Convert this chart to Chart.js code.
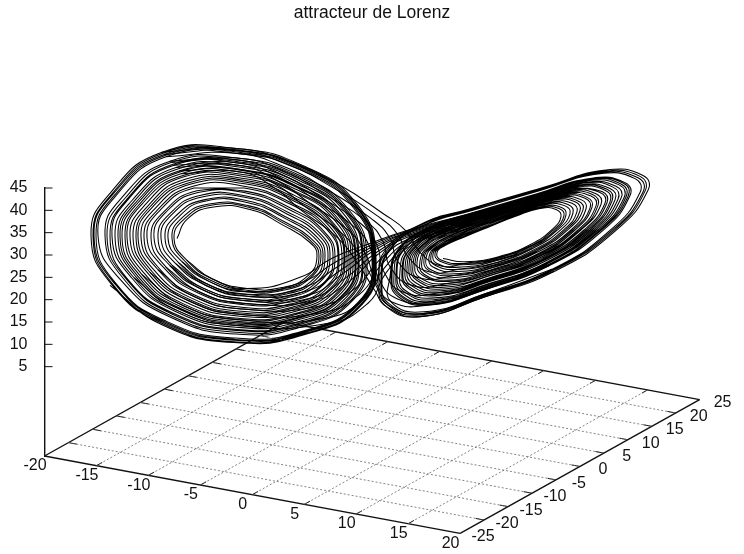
<!DOCTYPE html>
<html>
<head>
<meta charset="utf-8">
<title>attracteur de Lorenz</title>
<script src="https://cdn.jsdelivr.net/npm/chart.js@4/dist/chart.umd.js"></script>
<style>
  body { margin: 0; background: #fff; }
  canvas { display: block; }
</style>
</head>
<body>
<canvas id="lorenz" width="744" height="554"></canvas>
<script>
"use strict";
const xTicks = [-20, -15, -10, -5, 0, 5, 10, 15, 20];
const yTicks = [-25, -20, -15, -10, -5, 0, 5, 10, 15, 20, 25];
const zTicks = [5, 10, 15, 20, 25, 30, 35, 40, 45];

// curve: pairs of (screen position, height on the z axis)
const leftTurns = [
  [-19.5,33.7, -18.5,38, -16,40.7, -12.2,40.2, -9,36.8, -6.2,32.8, -5.5,29.7, -6.4,25.4, -9,22.7, -12.5,22.5, -16,24.7, -18.5,28.8],
  [-19.8,33.7, -18.7,38.2, -16.2,41.1, -12.2,40.6, -8.9,37.2, -6.1,33.1, -5.3,29.7, -6.2,25.2, -8.9,22.4, -12.5,22.1, -16.2,24.4, -18.7,28.6],
  [-20,33.7, -19,38.3, -16.3,41.4, -12.3,41, -8.9,37.6, -5.9,33.3, -5.1,29.7, -6.1,25, -8.9,22.1, -12.6,21.8, -16.3,24.1, -19,28.5],
  [-20.4,33.8, -19.3,38.6, -16.6,42.1, -12.4,41.7, -8.7,38.2, -5.7,33.7, -4.9,29.6, -5.8,24.7, -8.7,21.5, -12.6,21.2, -16.6,23.6, -19.3,28.2],
  [-20.7,33.8, -19.6,38.8, -16.7,42.4, -12.4,42.1, -8.7,38.6, -5.5,34, -4.7,29.6, -5.6,24.5, -8.7,21.2, -12.7,20.8, -16.7,23.3, -19.6,28],
  [-21.1,33.8, -20,39.1, -17,43, -12.5,42.8, -8.6,39.3, -5.3,34.4, -4.4,29.6, -5.4,24.2, -8.6,20.7, -12.7,20.2, -17,22.7, -20,27.7],
  [-21.4,33.9, -20.2,39.3, -17.1,43.4, -12.6,43.2, -8.5,39.7, -5.1,34.6, -4.2,29.6, -5.2,24, -8.5,20.4, -12.8,19.8, -17.1,22.4, -20.2,27.6],
  [-21.8,33.9, -20.6,39.6, -17.4,44, -12.6,43.9, -8.4,40.3, -4.9,35, -3.9,29.6, -4.9,23.6, -8.4,19.9, -12.9,19.2, -17.4,21.9, -20.6,27.3],
  [-22.1,33.9, -20.8,39.7, -17.5,44.4, -12.7,44.3, -8.3,40.7, -4.8,35.3, -3.7,29.6, -4.8,23.5, -8.3,19.6, -12.9,18.9, -17.5,21.6, -20.8,27.1],
  [-22.5,33.9, -21.2,40, -17.8,45, -12.8,45, -8.2,41.4, -4.5,35.7, -3.4,29.5, -4.5,23.1, -8.2,19, -13,18.3, -17.8,21.1, -21.2,26.8],
  [-22.8,34, -21.4,40.2, -17.9,45.4, -12.8,45.4, -8.1,41.7, -4.4,36, -3.3,29.5, -4.3,22.9, -8.1,18.7, -13,17.9, -17.9,20.8, -21.4,26.7],
  [-23.1,34, -21.7,40.4, -18.1,45.9, -12.9,46, -8,42.3, -4.2,36.3, -3,29.5, -4.1,22.7, -8,18.3, -13.1,17.4, -18.1,20.4, -21.7,26.4],
  [-23.4,34, -22,40.6, -18.3,46.2, -12.9,46.4, -8,42.7, -4,36.5, -2.8,29.5, -4,22.5, -8,18, -13.1,17, -18.3,20.1, -22,26.3],
  [-23.6,34, -22.2,40.8, -18.4,46.6, -13,46.8, -7.9,43, -3.9,36.8, -2.7,29.5, -3.8,22.3, -7.9,17.7, -13.1,16.7, -18.4,19.8, -22.2,26.1],
  [-23.9,34.1, -22.4,41, -18.6,47, -13,47.2, -7.8,43.4, -3.8,37, -2.5,29.4, -3.6,22.1, -7.8,17.3, -13.2,16.3, -18.6,19.4, -22.4,25.9],
  [-24.2,34.1, -22.7,41.2, -18.8,47.5, -13.1,47.7, -7.7,44, -3.6,37.4, -2.3,29.4, -3.4,21.8, -7.7,16.9, -13.2,15.8, -18.8,19, -22.7,25.7],
  [-24.5,34.1, -23,41.4, -18.9,47.8, -13.1,48.1, -7.7,44.3, -3.4,37.6, -2.1,29.4, -3.3,21.6, -7.7,16.6, -13.3,15.5, -18.9,18.7, -23,25.6],
  [-24.7,34.1, -23.2,41.5, -19.1,48.2, -13.2,48.6, -7.6,44.7, -3.3,37.9, -1.9,29.4, -3.1,21.4, -7.6,16.3, -13.3,15.1, -19.1,18.4, -23.2,25.4],
  [-25,34.1, -23.4,41.7, -19.2,48.6, -13.2,49, -7.5,45.1, -3.1,38.1, -1.7,29.4, -2.9,21.2, -7.5,16, -13.3,14.8, -19.2,18.1, -23.4,25.2],
  [-25.2,34.2, -23.6,41.8, -19.3,48.8, -13.3,49.2, -7.5,45.4, -3,38.3, -1.6,29.4, -2.8,21.1, -7.5,15.8, -13.4,14.5, -19.3,17.9, -23.6,25.1],
  [-25.4,34.2, -23.8,42, -19.5,49.2, -13.3,49.7, -7.4,45.8, -2.9,38.5, -1.4,29.4, -2.7,20.9, -7.4,15.5, -13.4,14.2, -19.5,17.6, -23.8,24.9],
  [-25.7,34.2, -24,42.2, -19.6,49.6, -13.4,50.1, -7.3,46.2, -2.7,38.8, -1.3,29.3, -2.5,20.7, -7.3,15.1, -13.4,13.8, -19.6,17.3, -24,24.8],
  [-26,34.2, -24.4,42.4, -19.8,50.1, -13.4,50.6, -7.3,46.7, -2.5,39.1, -1,29.3, -2.3,20.5, -7.3,14.7, -13.5,13.3, -19.8,16.9, -24.4,24.5],
  [-26.2,34.2, -24.5,42.5, -19.9,50.3, -13.4,50.9, -7.2,47, -2.4,39.3, -0.9,29.3, -2.2,20.3, -7.2,14.5, -13.5,13.1, -19.9,16.7, -24.5,24.4],
  [-26.5,34.3, -24.7,42.7, -20.1,50.7, -13.5,51.3, -7.1,47.3, -2.3,39.5, -0.7,29.3, -2,20.1, -7.1,14.2, -13.6,12.7, -20.1,16.4, -24.7,24.3],
  [-26.7,34.3, -25,42.9, -20.2,51, -13.5,51.7, -7.1,47.7, -2.2,39.8, -0.5,29.3, -1.9,19.9, -7.1,13.9, -13.6,12.3, -20.2,16.1, -25,24.1],
  [-27.4,34.3, -25.6,43.3, -20.6,52, -13.7,52.8, -6.9,48.8, -1.8,40.4, 0,29.2, -1.4,19.4, -6.9,13, -13.7,11.4, -20.6,15.2, -25.6,23.6],
  [-27.6,34.4, -25.7,43.5, -20.7,52.3, -13.7,53.1, -6.8,49, -1.7,40.6, 0.1,29.2, -1.3,19.3, -6.8,12.8, -13.7,11.1, -20.7,15, -25.7,23.5],
  [-27.8,34.4, -25.9,43.6, -20.8,52.5, -13.7,53.4, -6.8,49.3, -1.6,40.8, 0.2,29.2, -1.2,19.2, -6.8,12.6, -13.7,10.9, -20.8,14.8, -25.9,23.4],
  [-27.9,34.4, -26,43.7, -20.9,52.8, -13.8,53.6, -6.7,49.5, -1.5,40.9, 0.3,29.2, -1.1,19, -6.7,12.4, -13.8,10.6, -20.9,14.6, -26,23.3],
  [-28.1,34.4, -26.2,43.8, -21,53, -13.8,53.9, -6.7,49.8, -1.4,41.1, 0.4,29.2, -1,18.9, -6.7,12.2, -13.8,10.4, -21,14.4, -26.2,23.2],
];
const rightTurns = [
  [7.1,29.2, 9.3,28.5, 12.8,29.7, 15.8,32.3, 18,35.7, 18.9,38.6, 18.4,40.2, 16.8,40.4, 14.3,38.6, 11.8,36.4, 9.3,34.1, 7.3,32.1, 6.5,30.6],
  [6.9,28.9, 9.2,28.1, 12.7,29.4, 15.9,32.1, 18.2,35.7, 19.2,38.8, 18.7,40.4, 17,40.7, 14.4,38.8, 11.7,36.5, 9.2,34.2, 7.1,32.1, 6.3,30.4],
  [6.8,28.6, 9,27.8, 12.7,29.1, 15.9,31.9, 18.4,35.7, 19.4,39, 18.9,40.7, 17.2,40.9, 14.5,39, 11.7,36.6, 9,34.3, 6.9,32, 6.1,30.2],
  [6.5,28.1, 8.9,27.3, 12.6,28.8, 16,31.7, 18.6,35.7, 19.8,39.2, 19.3,41, 17.5,41.3, 14.6,39.3, 11.6,36.8, 8.9,34.4, 6.7,32, 5.9,29.9],
  [6.3,27.7, 8.7,26.8, 12.6,28.4, 16.1,31.5, 18.9,35.7, 20.1,39.4, 19.6,41.3, 17.7,41.6, 14.7,39.5, 11.5,37, 8.7,34.5, 6.5,32, 5.7,29.6],
  [6.1,27.3, 8.5,26.3, 12.5,28, 16.2,31.2, 19.2,35.7, 20.5,39.7, 20,41.6, 18,41.9, 14.8,39.8, 11.5,37.1, 8.5,34.6, 6.2,31.9, 5.4,29.3],
  [5.8,26.8, 8.3,25.8, 12.4,27.7, 16.3,31, 19.4,35.7, 20.8,39.9, 20.3,41.9, 18.3,42.3, 14.9,40, 11.4,37.3, 8.3,34.7, 6,31.9, 5.2,29.1],
  [5.7,26.5, 8.2,25.4, 12.4,27.4, 16.4,30.8, 19.6,35.7, 21.1,40.1, 20.6,42.1, 18.5,42.6, 15,40.2, 11.3,37.4, 8.2,34.8, 5.8,31.8, 5,28.9],
  [5.4,26.1, 8,24.9, 12.3,27, 16.5,30.6, 19.9,35.6, 21.4,40.3, 20.9,42.4, 18.7,42.9, 15.1,40.5, 11.2,37.6, 8,34.9, 5.6,31.8, 4.8,28.6],
  [5.2,25.7, 7.8,24.4, 12.2,26.7, 16.6,30.3, 20.1,35.6, 21.8,40.5, 21.3,42.7, 19,43.2, 15.2,40.7, 11.2,37.7, 7.8,35, 5.3,31.7, 4.5,28.3],
  [5.1,25.4, 7.7,24.1, 12.2,26.4, 16.7,30.1, 20.3,35.6, 22,40.7, 21.5,42.9, 19.2,43.5, 15.3,40.9, 11.1,37.8, 7.7,35.1, 5.1,31.7, 4.3,28.1],
  [4.8,24.9, 7.5,23.6, 12.1,26, 16.8,29.9, 20.6,35.6, 22.4,41, 21.9,43.2, 19.4,43.8, 15.4,41.2, 11,38, 7.5,35.2, 4.9,31.7, 4.1,27.8],
  [4.6,24.6, 7.4,23.2, 12.1,25.7, 16.8,29.7, 20.8,35.6, 22.6,41.1, 22.1,43.5, 19.6,44.1, 15.5,41.4, 11,38.1, 7.4,35.3, 4.7,31.6, 3.9,27.6],
  [4.5,24.3, 7.2,22.8, 12,25.5, 16.9,29.5, 20.9,35.6, 22.9,41.3, 22.4,43.7, 19.8,44.4, 15.6,41.6, 10.9,38.2, 7.2,35.3, 4.5,31.6, 3.7,27.4],
  [4.3,23.9, 7.1,22.4, 12,25.1, 17,29.3, 21.2,35.6, 23.3,41.6, 22.8,44, 20.1,44.7, 15.7,41.9, 10.9,38.4, 7.1,35.5, 4.3,31.6, 3.5,27.1],
  [4.1,23.5, 6.9,22, 11.9,24.8, 17.1,29.1, 21.4,35.6, 23.5,41.7, 23,44.2, 20.3,45, 15.8,42, 10.8,38.5, 6.9,35.5, 4.1,31.5, 3.3,26.9],
  [3.9,23.2, 6.8,21.6, 11.8,24.5, 17.1,28.9, 21.6,35.6, 23.8,41.9, 23.3,44.5, 20.5,45.2, 15.9,42.2, 10.7,38.6, 6.8,35.6, 3.9,31.5, 3.1,26.7],
  [3.7,22.9, 6.6,21.2, 11.8,24.3, 17.2,28.8, 21.8,35.6, 24,42.1, 23.5,44.7, 20.7,45.5, 16,42.4, 10.7,38.8, 6.6,35.7, 3.8,31.4, 3,26.5],
  [3.6,22.6, 6.5,20.9, 11.7,24, 17.3,28.6, 22,35.6, 24.3,42.3, 23.8,44.9, 20.9,45.7, 16,42.6, 10.6,38.9, 6.5,35.8, 3.6,31.4, 2.8,26.3],
  [3.3,22.1, 6.3,20.4, 11.7,23.6, 17.4,28.3, 22.2,35.6, 24.6,42.5, 24.1,45.2, 21.2,46.1, 16.1,42.9, 10.5,39, 6.3,35.9, 3.3,31.4, 2.5,26],
  [3.2,21.8, 6.2,20, 11.6,23.4, 17.5,28.2, 22.4,35.6, 24.9,42.7, 24.4,45.4, 21.4,46.3, 16.2,43.1, 10.5,39.2, 6.2,36, 3.2,31.3, 2.4,25.8],
  [3,21.5, 6,19.6, 11.6,23.1, 17.5,28, 22.6,35.6, 25.2,42.8, 24.7,45.7, 21.6,46.6, 16.3,43.3, 10.4,39.3, 6,36, 3,31.3, 2.2,25.6],
  [2.8,21.2, 5.9,19.3, 11.5,22.8, 17.6,27.8, 22.8,35.6, 25.4,43, 24.9,45.9, 21.8,46.9, 16.4,43.5, 10.4,39.4, 5.9,36.1, 2.8,31.3, 2,25.4],
  [2.7,21, 5.8,19, 11.5,22.6, 17.6,27.7, 22.9,35.5, 25.6,43.1, 25.1,46.1, 21.9,47, 16.5,43.6, 10.3,39.5, 5.8,36.2, 2.7,31.3, 1.9,25.2],
  [2.6,20.7, 5.7,18.8, 11.5,22.4, 17.7,27.6, 23.1,35.5, 25.8,43.3, 25.3,46.2, 22,47.2, 16.5,43.7, 10.3,39.6, 5.7,36.2, 2.6,31.2, 1.8,25.1],
  [1.9,19.5, 5.2,17.3, 11.3,21.3, 18,26.8, 23.8,35.5, 26.8,44, 26.3,47.1, 22.8,48.2, 16.9,44.5, 10.1,40, 5.2,36.6, 1.8,31.1, 1,24.2],
  [1.7,19.1, 5.1,16.9, 11.2,21, 18.1,26.7, 24,35.5, 27.1,44.1, 26.6,47.3, 23,48.5, 16.9,44.7, 10,40.2, 5.1,36.6, 1.7,31.1, 0.9,24],
  [1.6,18.8, 4.9,16.6, 11.2,20.8, 18.1,26.5, 24.2,35.5, 27.3,44.3, 26.8,47.6, 23.2,48.7, 17,44.9, 10,40.3, 4.9,36.7, 1.5,31, 0.7,23.8],
  [1.4,18.5, 4.8,16.2, 11.1,20.5, 18.2,26.3, 24.4,35.5, 27.6,44.5, 27.1,47.8, 23.4,49, 17.1,45.1, 9.9,40.4, 4.8,36.8, 1.3,31, 0.5,23.6],
];
// strands leaving the right wing for the left one
const rightToLeft = [
  [22,47, 15.9,43, 9.9,39.3, 3.5,35.5, -0.2,32.6, -3.9,29.4, -7.2,25, -12.5,22.5, -16,24.7, -18.5,28.8],
  [21.5,46.5, 15.6,42.8, 9.8,39.1, 3.5,35.3, -0.1,32.2, -3.6,28.5, -7,23.9, -12.6,21.8, -16.3,24.1, -19,28.5],
  [21,46, 15.4,42.6, 9.8,39, 3.6,35.1, 0,31.8, -3.3,27.6, -6.8,22.8, -12.6,21.2, -16.6,23.6, -19.3,28.2],
  [20.5,45.5, 15.2,42.3, 9.9,38.7, 3.6,34.9, 0.1,31.4, -3,26.8, -6.6,21.9, -12.7,20.8, -16.7,23.3, -19.6,28],
  [20,45, 15,42, 9.9,38.5, 3.7,34.7, 0.2,31, -2.8,26, -6.4,21, -12.7,20.2, -17,22.7, -20,27.7],
  [19.5,44.8, 14.8,41.6, 10,38.2, 3.7,34.4, 0.4,30.5, -2.5,25.1, -6.2,20.3, -12.8,19.8, -17.1,22.4, -20.2,27.6],
  [19,44.5, 14.6,41.3, 10,38, 3.8,34.2, 0.5,30, -2.2,24.2, -6,19.7, -12.9,19.2, -17.4,21.9, -20.6,27.3],
  [18,43.5, 14.3,40.8, 10,37.6, 3.9,33.8, 0.8,29, -1.7,22.5, -5.6,18.4, -13,17.9, -17.9,20.8, -21.4,26.7],
  [17,42.5, 14,40.2, 10.1,37.2, 4,33.4, 1,28, -1.2,21.3, -5.2,17, -13.1,16.7, -18.4,19.8, -22.2,26.1],
  [16.5,41.5, 13.8,39.6, 10.2,36.7, 4.2,33, 1.2,27, -0.8,20.2, -4.8,15.8, -13.3,15.5, -18.9,18.7, -23,25.6],
  [16,41, 13.6,39, 10.3,36.2, 4.3,32.6, 1.4,26, -0.4,19.2, -4.4,14.7, -13.4,14.2, -19.5,17.6, -23.8,24.9],
];
// strands leaving the left wing for the right one
const leftToRight = [
  [-21,53, -13.8,53.9, -8.2,50.8, -3.5,46, 1.1,39.3, 3.5,35.2, 4.8,30.6, 7,27.5, 9.2,28.1, 12.7,29.4, 15.9,32.1],
  [-20.8,52.5, -13.7,53.4, -8.3,50.1, -4,45.2, 0.5,38.8, 2.6,34.5, 3.6,29.6, 5.8,26.2, 8.7,26.8, 12.6,28.4, 16.1,31.5],
  [-20.6,52, -13.7,52.8, -8.4,49.4, -4.4,44.5, -0.1,38.2, 1.8,33.7, 2.6,28.5, 4.9,24.8, 8.2,25.4, 12.4,27.4, 16.4,30.8],
  [-20.2,51, -13.5,51.7, -8.6,48.6, -4.9,43.8, -0.6,37.6, 1.1,33, 1.8,27.4, 4,23.2, 7.5,23.6, 12.1,26, 16.8,29.9],
  [-20.1,50.7, -13.5,51.3, -8.8,47.8, -5.3,43.2, -1.1,37, 0.5,32.2, 1.2,26.2, 3.2,21.6, 6.8,21.6, 11.8,24.5, 17.1,28.9],
  [-19.8,50.1, -13.4,50.6, -9,47.1, -5.8,42.5, -1.7,36.2, -0.1,31.2, 0.6,25, 2.5,20.2, 6,19.6, 11.6,23.1, 17.5,28],
  [-19.6,49.6, -13.4,50.1, -9.2,46.3, -6.3,41.7, -2.3,35.4, -0.6,30, 0.4,23.8, 2,19.5, 5.7,18.8, 11.5,22.4, 17.7,27.6],
  [-19.3,48.8, -13.3,49.2, -9.4,45.5, -6.8,41, -2.9,34.6, -1,29, 0.5,22.7, 1.6,18.8, 5.1,16.9, 11.3,21.3, 18,26.8],
  [-19.1,48.2, -13.2,48.6, -9.6,44.8, -7.2,40.2, -3.4,33.8, -1.4,28, 0.3,22, 1.4,18.5, 4.8,16.2, 11.1,20.5, 18.2,26.3],
];

// gnuplot's view of the base plane, z axis bottom sits at -15
function project(x, y) {
  return {
    x: -32.75 + (x + 20) * 1.039 + (y + 25) * 0.479,
    y: -15 - (x + 20) * 0.433 + (y + 25) * 0.599,
  };
}
function toPoints(row) {
  const pts = [];
  for (let i = 0; i < row.length; i += 2) pts.push({ x: row[i], y: row[i + 1] });
  return pts;
}
function curve(rows) {
  return { data: toPoints(rows.flat()), borderColor: "#000", borderWidth: 1.05, tension: 0.5 };
}
function strand(row) {
  return { data: toPoints(row), borderColor: "#000", borderWidth: 1.05, tension: 0.5 };
}
function gridLine(a, b) {
  return { data: [a, b], borderColor: "#666", borderWidth: 0.8, borderDash: [2, 2] };
}
function axisLine(a, b, w) {
  return { data: [a, b], borderColor: "#111", borderWidth: w };
}

const xMin = xTicks[0], xMax = xTicks[xTicks.length - 1];
const yMin = yTicks[0], yMax = yTicks[yTicks.length - 1];
const datasets = [];

xTicks.slice(1, -1).forEach((x) => datasets.push(gridLine(project(x, yMin), project(x, yMax))));
yTicks.slice(1, -1).forEach((y) => datasets.push(gridLine(project(xMin, y), project(xMax, y))));

datasets.push(curve(leftTurns), curve(rightTurns));
rightToLeft.forEach((r) => datasets.push(strand(r)));
leftToRight.forEach((r) => datasets.push(strand(r)));

datasets.push(axisLine(project(xMin, yMin), project(xMax, yMin), 1.4));
datasets.push(axisLine(project(xMax, yMin), project(xMax, yMax), 1.4));
datasets.push(axisLine(project(xMax, yMax), project(xMin, yMax), 1.4));
datasets.push(axisLine(project(xMin, yMax), project(xMin, yMin), 1.4));
xTicks.slice(1, -1).forEach((x) => {
  datasets.push(axisLine(project(x, yMin), project(x, yMin + 1.2), 1));
  datasets.push(axisLine(project(x, yMax), project(x, yMax - 1.2), 1));
});
yTicks.slice(1, -1).forEach((y) => {
  datasets.push(axisLine(project(xMin, y), project(xMin + 0.8, y), 1));
  datasets.push(axisLine(project(xMax, y), project(xMax - 0.8, y), 1));
});
zTicks.forEach((z) => datasets.push(axisLine({ x: -32.75, y: z }, { x: -31.95, y: z }, 1)));

// the two base plane axes run on a slant, so their labels are placed by hand
const planeLabels = {
  id: "planeLabels",
  afterDatasetsDraw(chart) {
    const { ctx, scales } = chart;
    ctx.save();
    ctx.font = "16px 'Liberation Sans'";
    ctx.fillStyle = "#111";
    ctx.textAlign = "center";
    ctx.textBaseline = "middle";
    xTicks.forEach((x) => {
      const p = project(x, yMin);
      ctx.fillText(String(x), scales.x.getPixelForValue(p.x) - 9.5, scales.y.getPixelForValue(p.y) + 10);
    });
    yTicks.forEach((y) => {
      const p = project(xMax, y);
      ctx.fillText(String(y), scales.x.getPixelForValue(p.x) + 23, scales.y.getPixelForValue(p.y) + 3.5);
    });
    ctx.restore();
  },
};

new Chart(document.querySelector("#lorenz"), {
  type: "scatter",
  data: { datasets },
  plugins: [planeLabels],
  options: {
    responsive: false,
    animation: false,
    layout: { padding: { bottom: 98, right: 0, left: 0 } },
    datasets: { scatter: { showLine: true, pointRadius: 0, clip: false, fill: false } },
    plugins: {
      legend: { display: false },
      tooltip: { enabled: false },
      title: {
        display: true,
        text: "attracteur de Lorenz",
        color: "#111",
        font: { family: "'Liberation Sans'", size: 17.5, weight: "normal" },
        padding: { top: 3, bottom: 164 },
      },
    },
    scales: {
      x: { type: "linear", display: false, min: -32.75, max: 37.2 },
      y: {
        type: "linear",
        min: -15,
        max: 45,
        grid: { display: false, drawTicks: false },
        border: { display: true, color: "#111", width: 1.4 },
        afterFit(scale) { scale.width = 44.5; },
        ticks: {
          stepSize: 5,
          autoSkip: false,
          padding: 17,
          color: "#111",
          font: { family: "'Liberation Sans'", size: 16 },
          callback: (v) => (zTicks.includes(v) ? String(v) : ""),
        },
      },
    },
  },
});
</script>
</body>
</html>
